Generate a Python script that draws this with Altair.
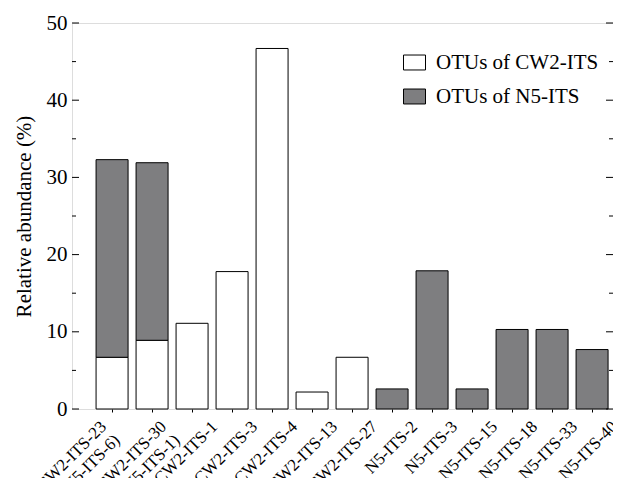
import altair as alt
import pandas as pd

categories = ["CW2-ITS-23 (N5-ITS-6)", "CW2-ITS-30 (N5-ITS-1)", "CW2-ITS-1", "CW2-ITS-3",
              "CW2-ITS-4", "CW2-ITS-13", "CW2-ITS-27", "N5-ITS-2", "N5-ITS-3", "N5-ITS-15",
              "N5-ITS-18", "N5-ITS-33", "N5-ITS-40"]
cw2_values = [6.7, 8.9, 11.1, 17.8, 46.7, 2.2, 6.7, 0, 0, 0, 0, 0, 0]
n5_values = [25.6, 23.0, 0, 0, 0, 0, 0, 2.6, 17.9, 2.6, 10.3, 10.3, 7.7]
series = ["OTUs of CW2-ITS", "OTUs of N5-ITS"]
colors = ["#ffffff", "#7e7e80"]
major_ticks = [0, 10, 20, 30, 40, 50]
minor_ticks = [5, 15, 25, 35, 45]

rows = []
for cat, a, b in zip(categories, cw2_values, n5_values):
    if a > 0:
        rows.append({"cat": cat, "series": series[0], "order": 0, "value": a})
    if b > 0:
        rows.append({"cat": cat, "series": series[1], "order": 1, "value": b})
df = pd.DataFrame(rows)

W, H = 541, 386
FONT = "Liberation Serif"

ticks_df = pd.DataFrame(
    [{"v": v, "len": 7} for v in major_ticks] + [{"v": v, "len": 4} for v in minor_ticks]
)

yscale = alt.Scale(domain=[0, 50], nice=False, zero=True)

label_offset = {
    "condition": [
        {"test": f"datum.value == '{categories[0]}'", "value": -14},
        {"test": f"datum.value == '{categories[1]}'", "value": 6},
    ],
    "value": 17,
}

bars = alt.Chart(df).mark_bar(stroke="black", strokeWidth=1).encode(
    x=alt.X("cat:N", sort=categories,
            scale=alt.Scale(paddingInner=0.2, paddingOuter=0.3625, align=0.83),
            axis=alt.Axis(title=None, labelAngle=-45, labelAlign="right", labelBaseline="top",
                          labelFontSize=17, labelFont=FONT, labelColor="black",
                          labelOffset=label_offset, labelPadding=6, ticks=True, tickSize=3,
                          tickColor="black", domain=False, labelOverlap=False,
                          labelLineHeight=19,
                          labelExpr="split(datum.label, ' ')")),
    y=alt.Y("value:Q", stack="zero", scale=yscale,
            axis=alt.Axis(title="Relative abundance (%)", values=major_ticks, ticks=False,
                          grid=False, domain=False, labelFontSize=21, labelFont=FONT,
                          labelColor="black", labelPadding=5, titleFont=FONT,
                          titleFontSize=21, titleFontWeight="normal", titleColor="black",
                          titlePadding=12)),
    color=alt.Color("series:N", scale=alt.Scale(domain=series, range=colors),
                    legend=alt.Legend(title=None, orient="none", legendX=331, legendY=28,
                                      symbolType="M-1,-0.68H1V0.68H-1Z", symbolSize=484,
                                      symbolStrokeColor="black", symbolStrokeWidth=1,
                                      labelFont=FONT, labelFontSize=21, labelColor="black",
                                      labelOffset=10, rowPadding=12, padding=0,
                                      labelLimit=400)),
    order=alt.Order("order:Q"),
)

left_minor = alt.Chart(ticks_df).transform_filter("datum.len < 5").mark_rule(color="black").encode(
    y=alt.Y("v:Q", scale=yscale), x=alt.value(0), x2=alt.value(4))
left_major = alt.Chart(ticks_df).transform_filter("datum.len > 5").mark_rule(color="black").encode(
    y=alt.Y("v:Q", scale=yscale), x=alt.value(0), x2=alt.value(7))
right_minor = alt.Chart(ticks_df).transform_filter("datum.len < 5").mark_rule(color="black").encode(
    y=alt.Y("v:Q", scale=yscale), x=alt.value(W - 4), x2=alt.value(W))
right_major = alt.Chart(ticks_df).transform_filter("datum.len > 5").mark_rule(color="black").encode(
    y=alt.Y("v:Q", scale=yscale), x=alt.value(W - 7), x2=alt.value(W))

chart = alt.layer(bars, left_minor, left_major, right_minor, right_major).properties(
    width=W, height=H,
    autosize=alt.AutoSizeParams(type="none"),
    padding={"left": 64, "top": 15, "right": 0, "bottom": 69},
).configure_view(stroke="black", strokeWidth=1).configure(background="white")

chart.save("out.html", embed_options={"renderer": "svg", "actions": False})
